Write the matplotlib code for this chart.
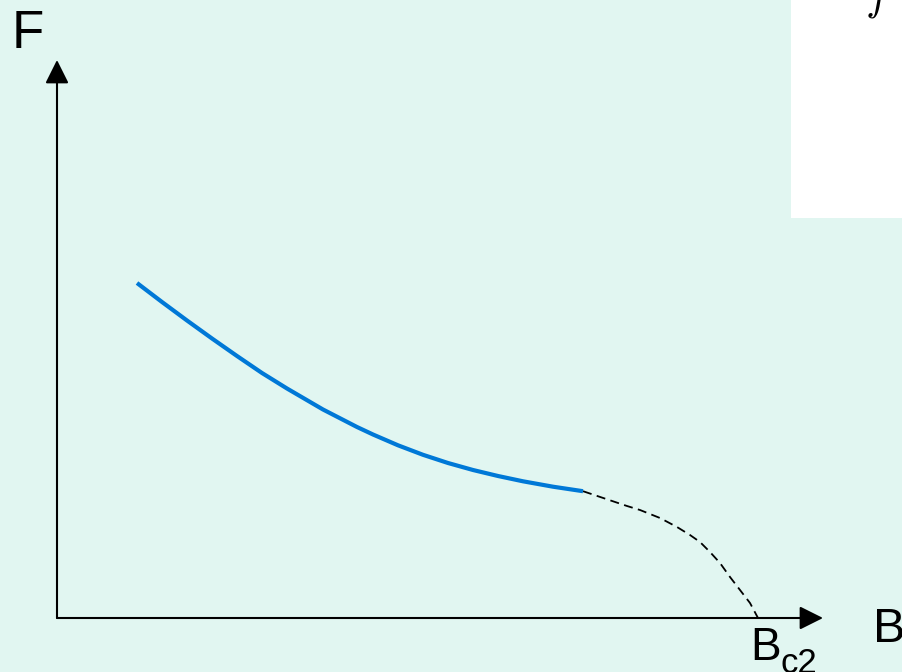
import matplotlib
matplotlib.use("Agg")
import matplotlib.pyplot as plt
from matplotlib.patches import Rectangle

# pinning force F vs field B (arbitrary units)
b_solid = [0.80, 1.05, 1.30, 1.55, 1.80, 2.05, 2.30, 2.66, 3.00, 3.16, 3.41,
           3.66, 3.91, 4.16, 4.41, 4.66, 4.96, 5.26]
f_solid = [3.35, 3.16, 2.975, 2.795, 2.62, 2.45, 2.295, 2.085, 1.91, 1.835, 1.727,
           1.632, 1.55, 1.48, 1.42, 1.367, 1.313, 1.268]
b_dash = [5.26, 5.70, 5.83, 6.03, 6.20, 6.33, 6.43, 6.53, 6.63, 6.73, 6.83, 6.93, 7.01]
f_dash = [1.268, 1.12, 1.08, 1.00, 0.91, 0.83, 0.76, 0.66, 0.55, 0.41, 0.28, 0.15, 0.0]
b_c2 = 7.01
b_max, f_max = 7.66, 5.58

W, H = 902, 672
bg = "#E1F6F1"

fig = plt.figure(figsize=(W / 100, H / 100), dpi=100)
fig.patch.set_facecolor(bg)
ax = fig.add_axes([0, 0, 1, 1])
ax.set_facecolor(bg)
ax.set_xlim(-0.57, 8.45)
ax.set_ylim(-0.54, 6.18)
ax.axis("off")

# white box top right
fig.patches.append(Rectangle((791 / W, 1 - 218 / H), 111 / W, 218 / H,
                             transform=fig.transFigure, facecolor="white",
                             edgecolor="none", zorder=0))
fig.text(865 / W, 1 - 8 / H, "$f$", fontsize=32, math_fontfamily="cm",
         va="baseline", ha="left")

# axes arrows
arrow = dict(arrowstyle="-|>,head_length=1.0,head_width=0.5", mutation_scale=14.4,
             lw=1.5, color="black", shrinkA=0, shrinkB=0)
ax.annotate("", xy=(0, f_max), xytext=(0, 0), arrowprops=arrow)
ax.annotate("", xy=(b_max, 0), xytext=(0, 0), arrowprops=arrow)

ax.plot(b_solid, f_solid, color="#0078D7", lw=3, solid_capstyle="butt",
        solid_joinstyle="round", zorder=3)
ax.plot(b_dash, f_dash, color="black", lw=1.3, ls=(0, (5, 3)), zorder=2)

font = "Liberation Sans"
fig.text(12 / W, 1 - 48 / H, "F", fontsize=38, family=font, va="baseline")
fig.text(873 / W, 1 - 642 / H, "B", fontsize=35, family=font, va="baseline")
fig.text(750 / W, 1 - 660 / H, "B", fontsize=33, family=font, va="baseline")
fig.text(781 / W, 1 - 673 / H, "c2", fontsize=25, family=font, va="baseline")

fig.savefig("out.png", dpi=100, facecolor=bg)
